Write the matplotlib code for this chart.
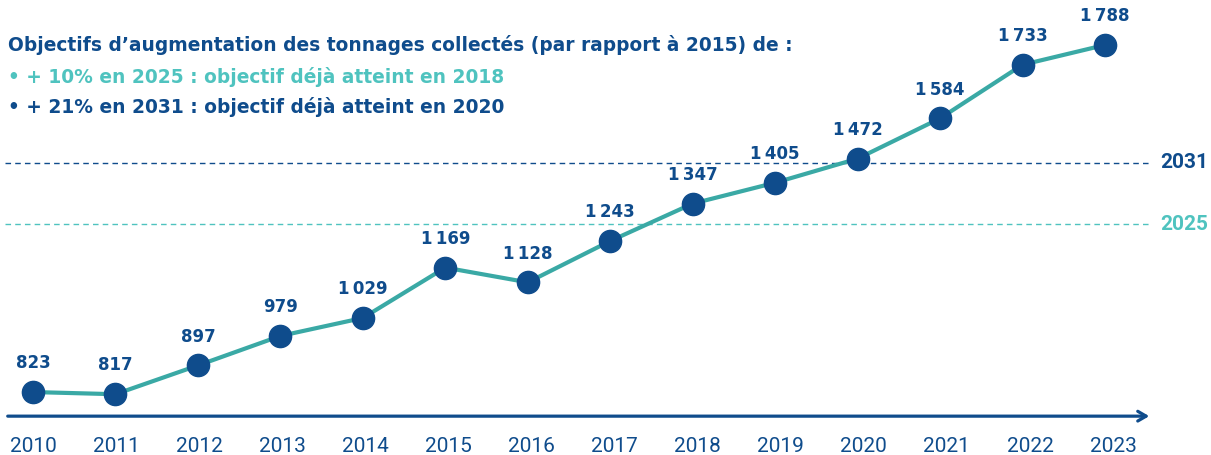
import matplotlib.pyplot as plt

# Tonnages collectés par année
years = [2010, 2011, 2012, 2013, 2014, 2015, 2016, 2017, 2018, 2019, 2020, 2021, 2022, 2023]
tonnes = [823, 817, 897, 979, 1029, 1169, 1128, 1243, 1347, 1405, 1472, 1584, 1733, 1788]
labels = ['823', '817', '897', '979', '1\u2009029', '1\u2009169', '1\u2009128', '1\u2009243',
          '1\u2009347', '1\u2009405', '1\u2009472', '1\u2009584', '1\u2009733', '1\u2009788']

# Objectifs (lignes pointillées)
goal_names = ['2031', '2025']
goal_values = [1460, 1290]

dark_blue = '#0f4c8c'
teal_line = '#3aa9a5'
light_teal = '#4fc3bf'

plt.rcParams['font.family'] = ['Roboto', 'DejaVu Sans']
bold_font = ['DejaVu Sans']

fig = plt.figure(figsize=(12.11, 4.55), dpi=100)
ax = fig.add_axes([0, 0, 1, 1])
ax.set_xlim(2009.6, 2024.285)
ax.set_ylim(648, 1913)
ax.axis('off')

# goal lines
goal_colors = [dark_blue, light_teal]
for name, val, col in zip(goal_names, goal_values, goal_colors):
    ax.plot([2009.66, 2023.53], [val, val], color=col, lw=1, ls=(0, (4, 3)))
    ax.text(2024.25, val, name, color=col, fontsize=15, fontweight='bold',
            ha='right', va='center')

# x axis arrow
ax.annotate('', xy=(2023.57, 756), xytext=(2009.66, 756),
            arrowprops=dict(arrowstyle='->,head_length=0.6,head_width=0.35',
                            color=dark_blue, lw=2.3))
# year labels are spaced a touch wider than the points in the original
for yr in years:
    ax.text(2010 + (yr - 2010) * 1.0075, 672, str(yr), color=dark_blue, fontsize=15,
            ha='center', va='center')

# data line
ax.plot(years, tonnes, color=teal_line, lw=3, zorder=3)
ax.plot(years, tonnes, 'o', color=dark_blue, ms=16, zorder=4)
for yr, v, lab in zip(years, tonnes, labels):
    ax.text(yr, v + 80, lab, color=dark_blue, fontsize=12, fontweight='bold',
            family=bold_font, ha='center', va='center')

# heading
fig.text(0.007, 1 - 45 / 455, 'Objectifs d\u2019augmentation des tonnages collectés (par rapport à 2015) de :',
         color=dark_blue, fontsize=13.4, fontweight='bold', family=bold_font, va='center')
fig.text(0.007, 1 - 77 / 455, '• + 10% en 2025 : objectif déjà atteint en 2018',
         color=light_teal, fontsize=13.4, fontweight='bold', family=bold_font, va='center')
fig.text(0.007, 1 - 107 / 455, '• + 21% en 2031 : objectif déjà atteint en 2020',
         color=dark_blue, fontsize=13.4, fontweight='bold', family=bold_font, va='center')

fig.savefig('out.png', dpi=100)
